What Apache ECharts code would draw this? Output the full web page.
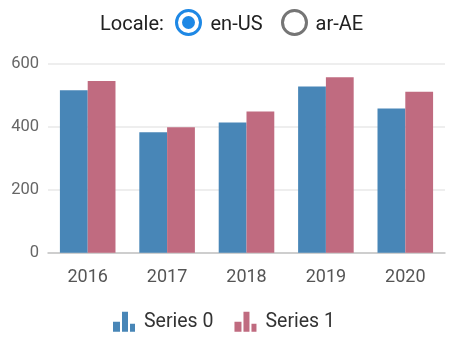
<!DOCTYPE html>
<html>
<head>
<meta charset="utf-8">
<script src="https://cdn.jsdelivr.net/npm/echarts@6/dist/echarts.min.js"></script>
<style>
  html, body { margin: 0; padding: 0; background: #fff; }
  #wrap { position: relative; width: 456px; height: 340px; font-family: Roboto, sans-serif; }
  #chart { position: absolute; left: 0; top: 0; width: 456px; height: 340px; }
  .lbl { position: absolute; font-size: 20px; line-height: 28px; color: #212121; white-space: nowrap; }
  .radio { position: absolute; width: 27px; height: 27px; box-sizing: border-box; border-radius: 50%; border: 3px solid #757575; }
  .radio.on { border-color: #1e88e5; }
  .radio.on::after { content: ""; position: absolute; left: 4px; top: 4px; width: 13px; height: 13px; border-radius: 50%; background: #1e88e5; }
</style>
</head>
<body>
<div id="wrap">
  <div id="chart"></div>
  <div class="lbl" style="left:100px; top:9px;">Locale:</div>
  <div class="radio on" style="left:174.5px; top:9.3px;"></div>
  <div class="lbl" style="left:210.5px; top:9px;">en-US</div>
  <div class="radio" style="left:280.7px; top:9.3px;"></div>
  <div class="lbl" style="left:315.5px; top:9px;">ar-AE</div>
</div>
<script>
const categories = ['2016', '2017', '2018', '2019', '2020'];
const seriesNames = ['Series 0', 'Series 1'];
const series0 = [516, 382, 413, 528, 458];
const series1 = [545, 398, 448, 557, 511];
const yTicks = [0, 200, 400, 600];

const colors = ['#4886b7', '#c06b80'];
const barIcon = 'path://M0,10h7v10h-7z M9,0h6v20h-6z M17,12h5v8h-5z';

const chart = echarts.init(document.getElementById('chart'), null, { renderer: 'canvas' });
chart.setOption({
  animation: false,
  color: colors,
  textStyle: { fontFamily: 'Roboto, sans-serif' },
  grid: { left: 48, right: 11, top: 63.7, bottom: 87.3, containLabel: false },
  legend: {
    data: seriesNames,
    left: 108,
    top: 306.7,
    itemWidth: 22,
    itemHeight: 20,
    itemGap: 21,
    icon: barIcon,
    textStyle: { fontSize: 19.5, color: '#333', padding: [0, 0, 0, 4] }
  },
  xAxis: {
    type: 'category',
    data: categories,
    axisLine: { lineStyle: { color: '#c4c4c4', width: 1.5 } },
    axisTick: { length: 6, lineStyle: { color: '#c4c4c4', width: 1.5 } },
    axisLabel: { fontSize: 18, color: '#555', margin: 16 }
  },
  yAxis: {
    type: 'value',
    min: yTicks[0],
    max: yTicks[yTicks.length - 1],
    interval: 200,
    axisLine: { show: false },
    axisTick: { show: false },
    axisLabel: { fontSize: 16.5, color: '#666', margin: 9 },
    splitLine: { lineStyle: { color: '#e8e8e8', width: 1.5 } }
  },
  series: [
    { name: seriesNames[0], type: 'bar', data: series0, barGap: 0, barCategoryGap: '30%' },
    { name: seriesNames[1], type: 'bar', data: series1, barGap: 0, barCategoryGap: '30%' }
  ]
});
</script>
</body>
</html>
